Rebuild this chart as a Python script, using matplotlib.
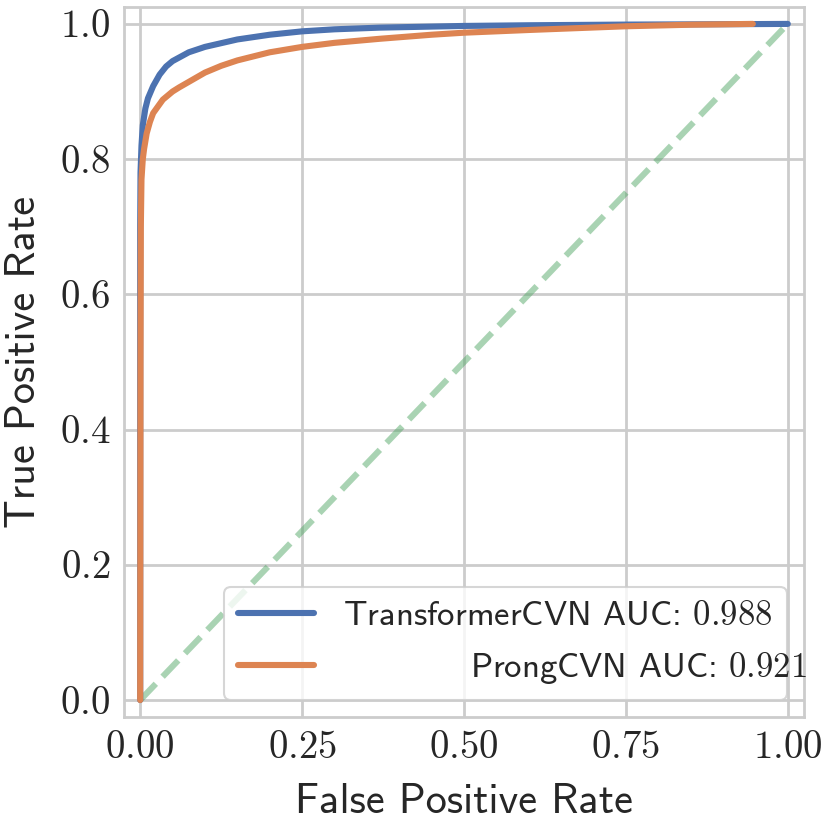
import matplotlib
matplotlib.use("Agg")
import matplotlib.pyplot as plt
import seaborn as sns
from matplotlib.ticker import FuncFormatter

# ---- data ----
transformer_fpr = [0.0, 0.0, 0.0005, 0.002, 0.004, 0.008, 0.012, 0.02, 0.03, 0.04, 0.05, 0.075,
                   0.1, 0.15, 0.2, 0.25, 0.3, 0.37, 0.5, 0.6, 0.75, 0.9, 1.0]
transformer_tpr = [0.0, 0.70, 0.78, 0.82, 0.85, 0.875, 0.89, 0.908, 0.925, 0.937, 0.945, 0.958,
                   0.966, 0.977, 0.984, 0.989, 0.992, 0.9945, 0.997, 0.998, 0.999, 0.9995, 1.0]
prong_fpr = [0.0, 0.0005, 0.001, 0.002, 0.004, 0.006, 0.01, 0.015, 0.02, 0.035, 0.05,
             0.06, 0.08, 0.1, 0.125, 0.15, 0.175, 0.2, 0.25, 0.3, 0.37, 0.45, 0.5, 0.6,
             0.75, 0.85, 0.946]
prong_tpr = [0.0, 0.50, 0.70, 0.77, 0.80, 0.815, 0.838, 0.855, 0.868, 0.888, 0.90,
             0.906, 0.917, 0.928, 0.938, 0.946, 0.952, 0.958, 0.966, 0.972, 0.978, 0.984,
             0.987, 0.991, 0.9965, 0.9988, 1.0]
chance = [0.0, 1.0]
names = ["TransformerCVN", "ProngCVN"]
aucs = [0.988, 0.921]
xticks = [0.0, 0.25, 0.5, 0.75, 1.0]
yticks = [0.0, 0.2, 0.4, 0.6, 0.8, 1.0]

sns.set_theme(style="whitegrid")
plt.rcParams["font.family"] = ["cmss10", "DejaVu Sans"]
plt.rcParams["mathtext.fontset"] = "cm"
plt.rcParams["axes.unicode_minus"] = False

blue, orange, green = "#4c72b0", "#dd8452", "#55a868"
text_c = "#262626"

fig = plt.figure(figsize=(8.3, 8.3), dpi=100)
ax = fig.add_axes([124 / 830, 1 - 717 / 830, 680 / 830, 710 / 830])

lw = 4.4
ax.plot(chance, chance, ls="--", color=green, alpha=0.5, lw=lw, zorder=1.5)
ax.plot(transformer_fpr, transformer_tpr, color=blue, lw=lw,
        solid_capstyle="round", solid_joinstyle="round",
        label=f"{names[0]} AUC: ${aucs[0]:.3f}$", zorder=2)
ax.plot(prong_fpr, prong_tpr, color=orange, lw=lw,
        solid_capstyle="round", solid_joinstyle="round",
        label=f"{names[1]} AUC: ${aucs[1]:.3f}$", zorder=2.1)

ax.margins(0.025)
ax.set_xticks(xticks)
ax.set_yticks(yticks)
ax.xaxis.set_major_formatter(FuncFormatter(lambda v, p: f"${v:.2f}$"))
ax.yaxis.set_major_formatter(FuncFormatter(lambda v, p: f"${v:.1f}$"))
ax.tick_params(axis="both", length=0, pad=10, labelsize=28, labelcolor=text_c)

ax.grid(True, color="0.8", lw=2.0)
for s in ax.spines.values():
    s.set_color("0.8")
    s.set_linewidth(2.0)

ax.set_xlabel("False Positive Rate", fontsize=30.5, color=text_c, labelpad=12)
ax.set_ylabel("True Positive Rate", fontsize=30.5, color=text_c, labelpad=12)

leg = ax.legend(loc="lower right", fontsize=25, frameon=True, framealpha=0.8,
                edgecolor="0.8", fancybox=True, labelcolor=text_c,
                handlelength=2.2, handletextpad=0.85)
leg.get_frame().set_linewidth(1.5)
for h in leg.get_lines():
    h.set_linewidth(lw)
    h.set_solid_capstyle("round")

fig.canvas.draw()
r = fig.canvas.get_renderer()
texts = leg.get_texts()
widths = [t.get_window_extent(r).width for t in texts]
shift = widths[0] - widths[1] + 34 * fig.dpi / 100
texts[1].set_position((shift, 0))

fig.savefig("out.png", dpi=100)
